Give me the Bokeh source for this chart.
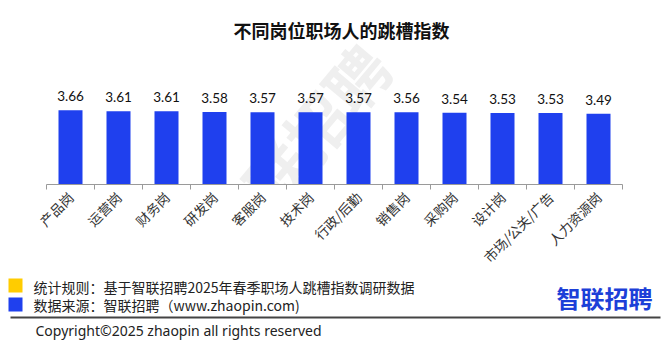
import math
from bokeh.plotting import figure
from bokeh.layouts import column
from bokeh.models import Range1d, FixedTicker, Label, ColumnDataSource
from bokeh.embed import file_html
from bokeh.resources import INLINE
from bokeh.core.properties import value

# ---- data ----
categories = ["产品岗", "运营岗", "财务岗", "研发岗", "客服岗", "技术岗",
              "行政/后勤", "销售岗", "采购岗", "设计岗", "市场/公关/广告", "人力资源岗"]
values = [3.66, 3.61, 3.61, 3.58, 3.57, 3.57, 3.57, 3.56, 3.54, 3.53, 3.53, 3.49]
title_text = "不同岗位职场人的跳槽指数"
note_rule = "统计规则：基于智联招聘2025年春季职场人跳槽指数调研数据"
note_source = "数据来源：智联招聘（www.zhaopin.com)"
copyright_text = "Copyright©2025 zhaopin all rights reserved"
logo_text = "智联招聘"

# ---- layout ----
W = 665
CHART_H = 276
FOOT_H = 347 - CHART_H
LEFT, RIGHT = 46, 43
FRAME_BOTTOM = 191
BAR_COLOR = "#1f40ee"

def sx(px):
    return px - LEFT

def sy(py):
    return FRAME_BOTTOM - py

n = len(categories)
xs = [i + 0.5 for i in range(n)]
source = ColumnDataSource(dict(x=xs, top=values, label=[f"{v:.2f}" for v in values]))

p = figure(width=W, height=CHART_H, output_backend="svg", toolbar_location=None,
           x_range=Range1d(0, n), y_range=Range1d(0, 9.08),
           y_axis_location=None,
           min_border_left=LEFT, min_border_right=RIGHT,
           min_border_top=0, min_border_bottom=CHART_H - FRAME_BOTTOM)
p.frame_align = False
p.outline_line_color = None
p.xgrid.visible = False
p.ygrid.visible = False
p.background_fill_color = "white"
p.border_fill_color = "white"

# watermark (behind bars)
p.add_layout(Label(x=sx(295), y=sy(155), x_units="screen", y_units="screen",
                   text=logo_text, angle=50, angle_units="deg", level="underlay",
                   text_align="center", text_baseline="middle",
                   text_font="Noto Sans CJK SC", text_font_style="bold",
                   text_font_size="62px", text_color="#efefef"))

p.vbar(x="x", top="top", bottom=0, width=0.5, source=source,
       fill_color=BAR_COLOR, line_color=None)
p.text(x="x", y="top", text="label", source=source,
       text_font=value("Lato"), text_font_size="13.5px", text_color="#111111",
       text_align="center", text_baseline="bottom", y_offset=-9)

ax = p.xaxis[0]
ax.ticker = FixedTicker(ticks=xs, minor_ticks=list(range(n + 1)))
ax.major_label_overrides = {x: c for x, c in zip(xs, categories)}
ax.major_tick_line_color = None
ax.minor_tick_in = 0
ax.minor_tick_out = 5
ax.minor_tick_line_color = "#9a9a9a"
ax.axis_line_color = "#9a9a9a"
ax.major_label_orientation = math.pi / 4
ax.major_label_text_font = "Noto Sans CJK SC"
ax.major_label_text_font_size = "13.5px"
ax.major_label_text_color = "#333333"
ax.major_label_standoff = 4

# title
p.add_layout(Label(x=sx(341), y=sy(36), x_units="screen", y_units="screen",
                   text=title_text, text_align="center", text_baseline="middle",
                   text_font="Noto Sans CJK SC", text_font_style="bold",
                   text_font_size="18px", text_color="#111111"))

# ---- footer (pixel-like coordinates, y measured from top of page) ----
f = figure(width=W, height=FOOT_H, output_backend="svg", toolbar_location=None,
           x_range=Range1d(0, W), y_range=Range1d(347, CHART_H),
           x_axis_location=None, y_axis_location=None,
           min_border=0, min_border_left=0, min_border_right=0,
           min_border_top=0, min_border_bottom=0)
f.frame_align = False
f.outline_line_color = None
f.xgrid.visible = False
f.ygrid.visible = False
f.background_fill_color = "white"
f.border_fill_color = "white"

f.quad(left=[8, 8], right=[22, 22], top=[278, 297], bottom=[292, 311],
       fill_color=["#ffcc00", BAR_COLOR], line_color=None)
f.segment(x0=[10], y0=[317], x1=[660], y1=[317], line_color="#444444", line_width=2)
f.text(x=[33, 33], y=[286, 304], text=[note_rule, note_source],
       text_font=value("Noto Sans CJK SC"), text_font_size="14px",
       text_color="#222222", text_baseline="middle", text_align="left")
f.text(x=[35], y=[330], text=[copyright_text],
       text_font=value("Noto Sans"), text_font_size="14px",
       text_color="#222222", text_baseline="middle", text_align="left")
f.text(x=[604], y=[297], text=[logo_text],
       text_font=value("Noto Sans CJK SC"), text_font_style="bold",
       text_font_size="24px", text_color="#1c3fd8",
       text_baseline="middle", text_align="center")

layout = column(p, f, spacing=0)
open("out.html", "w").write(file_html(layout, INLINE))
